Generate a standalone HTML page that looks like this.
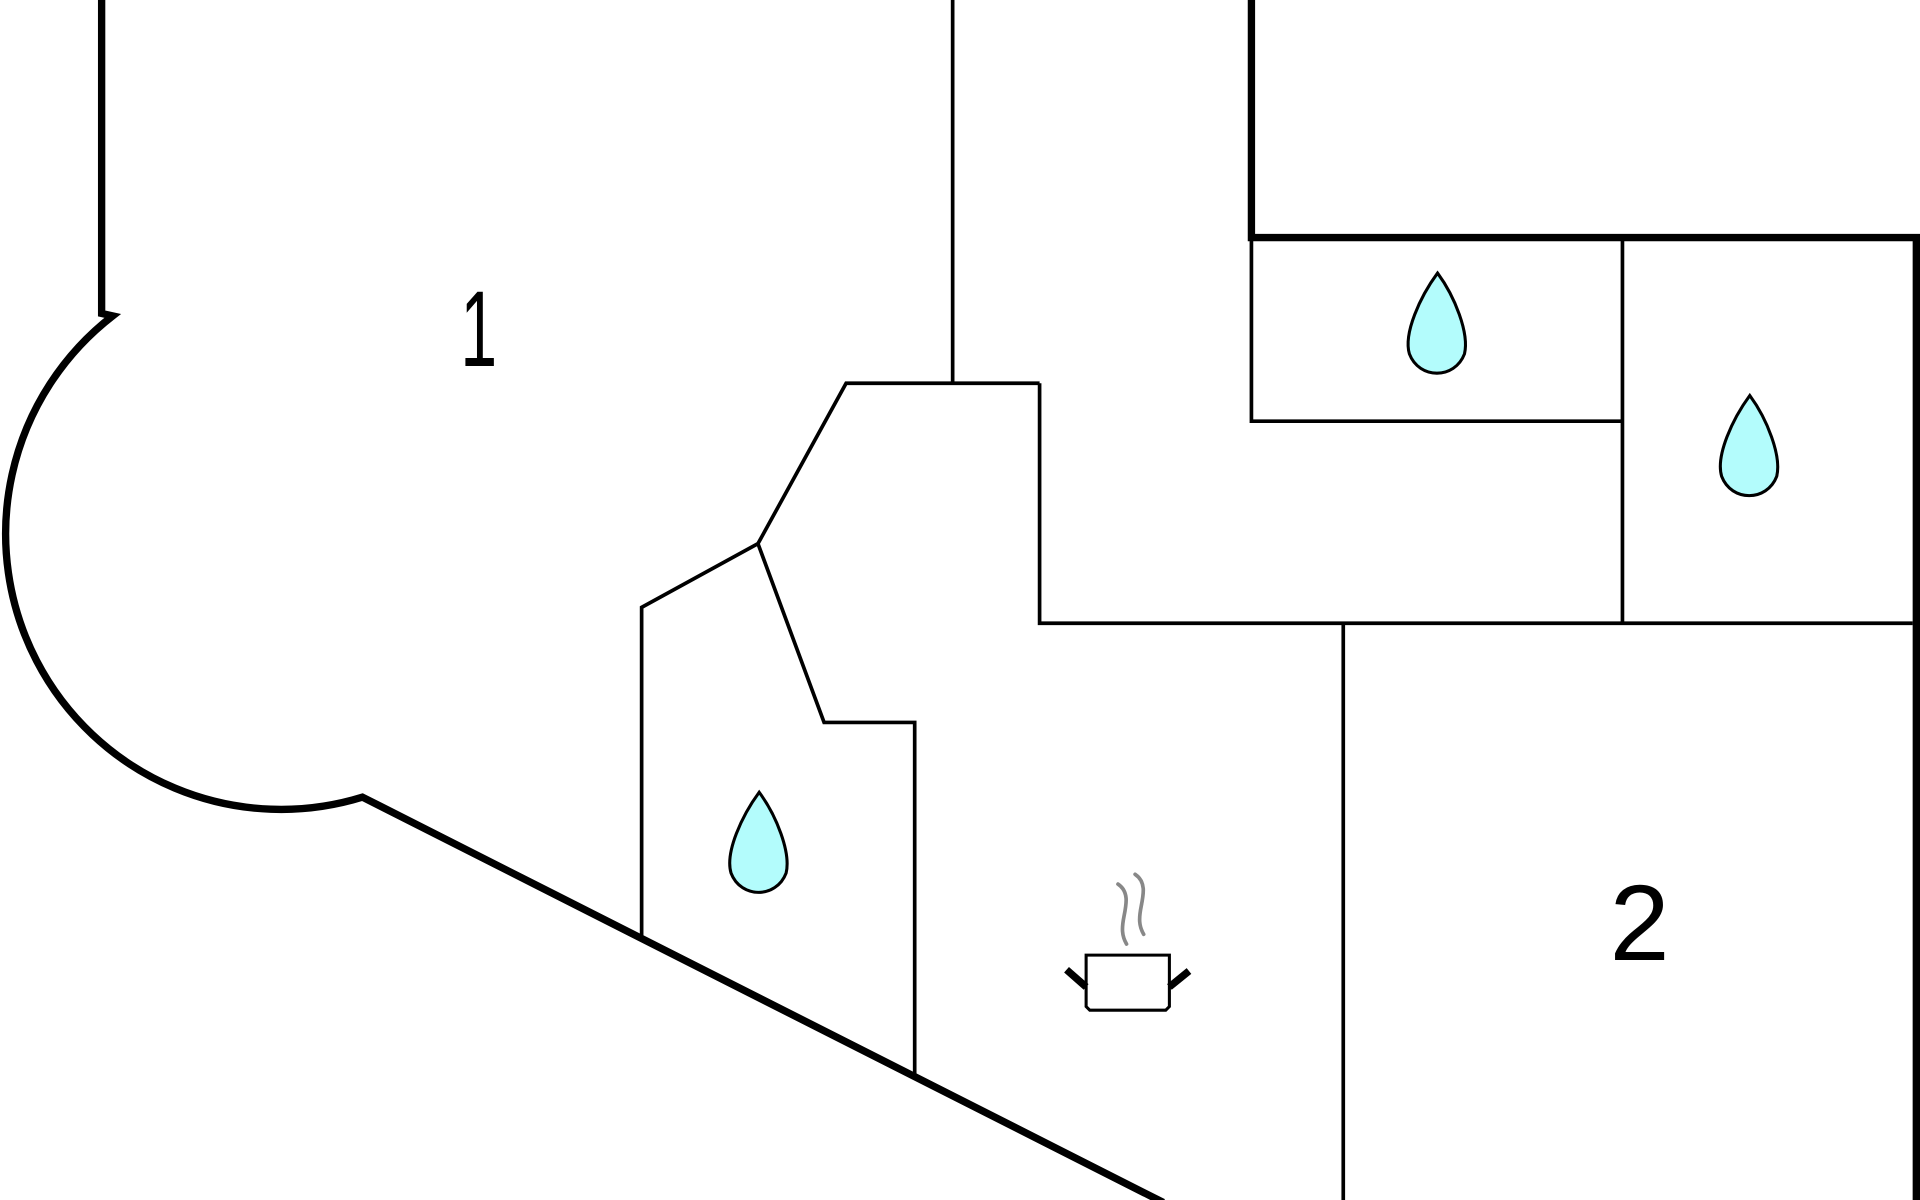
<!DOCTYPE html>
<html><head><style>html,body{margin:0;padding:0;background:#fff}svg{display:block}</style></head>
<body>
<svg width="1920" height="1200" viewBox="0 0 1568 980" xmlns="http://www.w3.org/2000/svg">
<g fill="none" stroke="#000" stroke-linecap="butt">
<path d="M83 0 V256 L92 258 A225 225 0 0 0 296 651 L950 982" stroke-width="6"/>
<path d="M1022 0 V194 H1565 V980" stroke-width="6"/>
<g stroke-width="3">
<line x1="778" y1="0" x2="778" y2="313"/>
<path d="M849 313 H691 L619 444 L524 496 V768"/>
<path d="M619 444 L673 590 H747 V880"/>
<path d="M849 313 V509 H1562"/>
<line x1="1097" y1="509" x2="1097" y2="980"/>
<path d="M1022 194 V344 H1325"/>
<line x1="1325" y1="194" x2="1325" y2="509"/>
</g>
</g>
<g fill="#b3fcfc" stroke="#000" stroke-width="2.5">
<path d="M1174 223 C1160 242 1146 272 1151 289 C1159 310 1188 310 1196 289 C1200 272 1188 242 1174 223 Z"/>
<path d="M1429 323 C1415 342 1401 372 1406 389 C1414 410 1443 410 1451 389 C1455 372 1443 342 1429 323 Z"/>
<path d="M620 647 C606 666 592 696 597 713 C605 734 634 734 642 713 C646 696 634 666 620 647 Z"/>
</g>
<g fill="none" stroke="#888" stroke-width="3" stroke-linecap="round">
<path d="M913 722 C922 728 920 738 918 748 C916 758 916 764 920 771"/>
<path d="M927 714 C936 720 934 730 932 740 C930 750 930 756 934 763"/>
</g>
<g fill="none" stroke="#000">
<path d="M887 780 H955 V822 L952 825 H890 L887 822 Z" stroke-width="2.5"/>
<path d="M871 792 L887 806 M955 806 L971 793" stroke-width="6"/>
</g>
<g font-family="Liberation Sans, sans-serif" font-size="88" fill="#000" text-anchor="middle">
<text x="391" y="299" textLength="30" lengthAdjust="spacingAndGlyphs">1</text>
<text x="1339" y="784">2</text>
</g>
</svg>
</body></html>
